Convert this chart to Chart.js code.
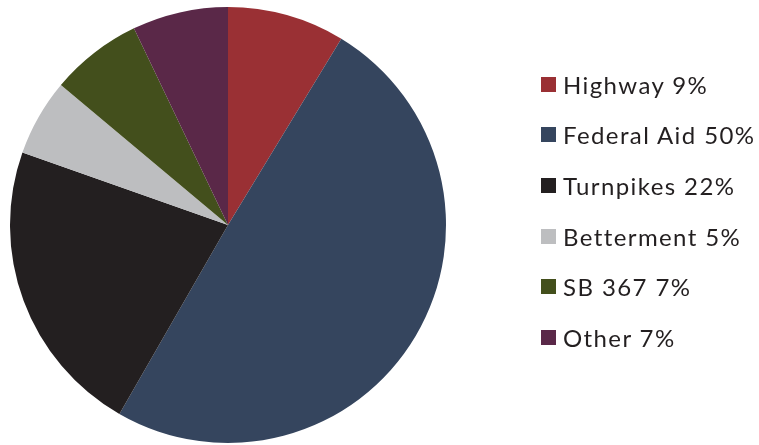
<!DOCTYPE html>
<html>
<head>
<meta charset="utf-8">
<script src="https://cdn.jsdelivr.net/npm/chart.js@4"></script>
<style>
  body { margin: 0; background: #fff; }
  #wrap { position: relative; width: 759px; height: 445px; }
  #legend { position: absolute; left: 541px; top: 59px; font-family: "Lato", sans-serif; font-weight: 400; font-size: 24px; letter-spacing: 1.4px; color: #231f20; }
  #legend div { height: 50.6px; display: flex; align-items: center; white-space: nowrap; }
  #legend span.box { display: inline-block; width: 15px; height: 15px; margin-right: 7px; }
</style>
</head>
<body>
<div id="wrap">
  <canvas id="pie" width="759" height="445"></canvas>
  <div id="legend"></div>
</div>
<script>
const categories = ["Highway", "Federal Aid", "Turnpikes", "Betterment", "SB 367", "Other"];
const shares = [8.7, 49.6, 22.1, 5.7, 6.8, 7.1];
const percentLabels = ["9%", "50%", "22%", "5%", "7%", "7%"];
const colors = ["#9a3034", "#35455e", "#231f20", "#bdbec0", "#434f1c", "#5a2848"];

const ctx = document.getElementById("pie").getContext("2d");
new Chart(ctx, {
  type: "pie",
  data: {
    labels: categories,
    datasets: [{
      data: shares,
      backgroundColor: colors,
      borderWidth: 0
    }]
  },
  options: {
    responsive: false,
    animation: false,
    layout: { padding: { left: 10, top: 7, bottom: 2, right: 313 } },
    plugins: {
      legend: { display: false },
      tooltip: { enabled: false }
    }
  }
});

// legend on the right, built from the same arrays
const legend = document.getElementById("legend");
categories.forEach((cat, i) => {
  const row = document.createElement("div");
  row.innerHTML = `<span class="box" style="background:${colors[i]}"></span>${cat} ${percentLabels[i]}`;
  legend.appendChild(row);
});
</script>
</body>
</html>
